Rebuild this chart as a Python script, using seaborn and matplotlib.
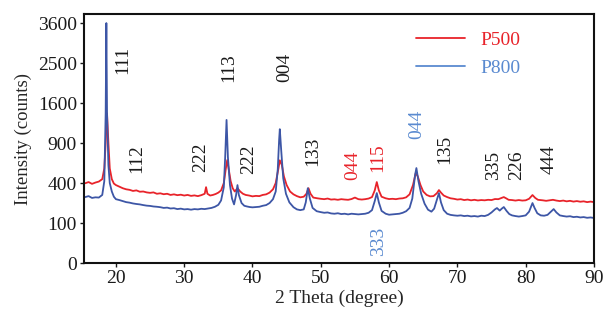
import numpy as np
import pandas as pd
import matplotlib
matplotlib.use("Agg")
import matplotlib.pyplot as plt
import seaborn as sns
from matplotlib.lines import Line2D

# ---- data ----
p500_x = [15.5,16.0,16.5,17.0,17.5,18.0,18.3,18.5,18.7,18.9,19.1,19.4,19.7,20.0,20.5,21.0,21.5,22.0,22.5,23.0,
          23.5,24.0,24.5,25.0,25.5,26.0,26.5,27.0,27.5,28.0,28.5,29.0,29.5,30.0,30.5,31.0,31.5,32.0,32.5,33.0,
          33.2,33.4,33.8,34.2,34.6,35.0,35.4,35.8,36.1,36.3,36.5,36.8,37.1,37.4,37.8,38.2,38.6,39.0,39.5,40.0,
          40.5,41.0,41.5,42.0,42.5,43.0,43.4,43.8,44.0,44.3,44.6,45.0,45.5,46.0,46.5,47.0,47.5,47.9,48.2,48.5,
          48.9,49.5,50.0,50.5,51.0,51.5,52.0,52.5,53.0,53.5,54.0,54.5,55.0,55.5,56.0,56.5,57.0,57.5,57.9,58.2,
          58.5,58.9,59.5,60.0,60.5,61.0,61.5,62.0,62.5,63.0,63.5,63.9,64.2,64.6,65.0,65.5,66.0,66.5,67.0,67.3,
          67.6,68.0,68.5,69.0,69.5,70.0,70.5,71.0,71.5,72.0,72.5,73.0,73.5,74.0,74.5,75.0,75.5,76.0,76.5,76.8,
          77.2,77.5,78.0,78.5,79.0,79.5,80.0,80.5,81.0,81.4,81.8,82.5,83.0,83.5,84.0,84.5,85.0,85.5,86.0,86.5,
          87.0,87.5,88.0,88.5,89.0,89.5,90.0]
p500_y = [398,410,392,405,415,440,560,900,1400,900,560,440,395,380,365,350,340,335,325,330,
          318,320,312,308,312,300,304,296,300,290,295,288,292,285,290,282,286,280,288,300,
          360,300,285,290,298,310,330,400,560,663,560,420,350,320,350,320,300,290,285,278,
          282,280,290,295,310,340,400,560,660,600,470,380,320,295,280,270,275,300,350,300,
          268,262,258,255,260,252,254,250,255,252,250,256,268,255,252,255,260,272,330,410,
          330,275,262,256,258,255,260,262,270,295,380,506,470,380,320,290,278,280,305,333,
          310,285,272,262,258,252,255,248,252,246,250,245,248,246,250,248,256,255,265,272,
          260,250,248,244,248,244,246,258,289,265,250,246,242,246,250,244,240,244,238,242,
          236,240,235,238,232,236,232]

p800_x = [15.5,16.0,16.5,17.0,17.5,18.0,18.3,18.5,18.6,18.7,18.9,19.1,19.4,19.7,20.0,20.5,21.0,21.5,22.0,22.5,
          23.0,23.5,24.0,24.5,25.0,25.5,26.0,26.5,27.0,27.5,28.0,28.5,29.0,29.5,30.0,30.5,31.0,31.5,32.0,32.5,
          33.0,33.5,34.0,34.5,35.0,35.4,35.8,36.0,36.2,36.4,36.7,37.0,37.3,37.6,37.8,38.0,38.4,38.8,39.2,39.6,
          40.0,40.5,41.0,41.5,42.0,42.5,43.0,43.4,43.7,43.9,44.0,44.2,44.5,44.9,45.4,46.0,46.5,47.0,47.5,47.8,
          48.1,48.4,48.8,49.4,50.0,50.5,51.0,51.5,52.0,52.5,53.0,53.5,54.0,54.5,55.0,55.5,56.0,56.5,57.0,57.5,
          57.9,58.2,58.5,58.9,59.5,60.0,60.5,61.0,61.5,62.0,62.5,63.0,63.4,63.8,64.0,64.3,64.7,65.2,65.7,66.2,
          66.6,67.0,67.3,67.6,68.0,68.5,69.0,69.5,70.0,70.5,71.0,71.5,72.0,72.5,73.0,73.5,74.0,74.5,75.0,75.5,
          75.8,76.2,76.5,76.8,77.2,77.6,78.0,78.5,79.0,79.5,80.0,80.5,81.0,81.3,81.7,82.2,82.7,83.2,83.7,84.1,
          84.5,85.0,85.5,86.0,86.5,87.0,87.5,88.0,88.5,89.0,89.5,90.0]
p800_y = [272,280,265,270,268,290,420,1400,3600,1400,600,400,320,275,255,248,240,232,228,222,
          218,215,210,206,204,200,198,195,190,192,186,188,182,185,180,182,178,182,180,184,
          182,186,190,198,212,245,360,700,1280,700,380,260,215,290,380,290,225,205,200,196,
          194,196,198,205,210,225,255,320,550,950,1120,800,450,300,230,195,180,175,180,230,
          350,260,190,168,162,158,160,154,152,155,150,152,148,152,150,148,150,152,158,175,
          240,306,230,170,152,146,148,150,152,158,168,190,260,480,564,420,300,220,178,165,
          185,250,306,230,175,152,145,142,140,142,138,140,136,138,135,140,138,145,160,180,
          189,172,185,196,170,150,142,138,135,138,142,165,225,190,155,142,140,145,165,182,
          160,142,138,135,137,132,134,130,132,128,130,127]

series_names = ["P500", "P800"]
x_ticks = [20, 30, 40, 50, 60, 70, 80, 90]
y_ticks = [0, 100, 400, 900, 1600, 2500, 3600]

peak_labels = ["111", "112", "222", "113", "222", "004", "133", "044", "115", "044", "135", "335", "226", "444", "333"]
peak_label_x = [21.0, 23.1, 32.4, 36.5, 39.4, 44.7, 48.8, 54.7, 58.4, 64.0, 68.2, 75.3, 78.7, 83.5, 58.4]
peak_label_yfrac = [0.815, 0.418, 0.426, 0.783, 0.418, 0.787, 0.450, 0.394, 0.422, 0.558, 0.458, 0.394, 0.394, 0.418, 0.088]
peak_label_kind = ["k", "k", "k", "k", "k", "k", "k", "r", "r", "b", "k", "k", "k", "k", "b"]

RED = "#e8232a"
BLUE = "#3d56a6"
LBLUE = "#5a8ad0"
kind_color = {"k": "#1a1a1a", "r": RED, "b": LBLUE}

df = pd.concat([
    pd.DataFrame({"x": p500_x, "y": p500_y, "s": series_names[0]}),
    pd.DataFrame({"x": p800_x, "y": p800_y, "s": series_names[1]}),
])

sns.set_style("ticks")
plt.rcParams["font.family"] = ["Liberation Serif", "DejaVu Serif"]
plt.rcParams["font.size"] = 14

fig = plt.figure(figsize=(6.03, 3.2), dpi=100)
ax = fig.add_axes([0.139, 0.178, 0.846, 0.778])

ax.set_yscale("function", functions=(lambda v: np.sqrt(np.clip(v, 0, None)), lambda v: np.square(v)))

sns.lineplot(data=df, x="x", y="y", hue="s", palette={"P500": RED, "P800": BLUE},
             sort=False, estimator=None, lw=1.3, ax=ax, legend=False)

ax.set_xlim(15.3, 90)
ax.set_ylim(0, 3875)
ax.set_xticks(x_ticks)
ax.set_yticks(y_ticks)
ax.set_yticklabels([str(t) for t in y_ticks])
ax.tick_params(labelsize=14, length=3, width=1, colors="#1a1a1a", pad=2)
for sp in ax.spines.values():
    sp.set_visible(True)
    sp.set_linewidth(1.5)
    sp.set_color("#111111")

ax.set_xlabel("2 Theta (degree)", fontsize=14, labelpad=2)
ax.set_ylabel("Intensity (counts)", fontsize=13.5, labelpad=4)

for lab, xx, yf, k in zip(peak_labels, peak_label_x, peak_label_yfrac, peak_label_kind):
    ax.text(xx, yf, lab, transform=ax.get_xaxis_transform(), rotation=90,
            ha="center", va="center", fontsize=14, color=kind_color[k])

handles = [Line2D([], [], color=RED, lw=1.3), Line2D([], [], color=LBLUE, lw=1.3)]
leg = ax.legend(handles, series_names, loc="upper left", bbox_to_anchor=(0.617, 1.0),
                frameon=False, fontsize=14, handlelength=2.5, handletextpad=0.8, labelspacing=0.5)
for t, c in zip(leg.get_texts(), [RED, LBLUE]):
    t.set_color(c)

fig.savefig("out.png", dpi=100)
